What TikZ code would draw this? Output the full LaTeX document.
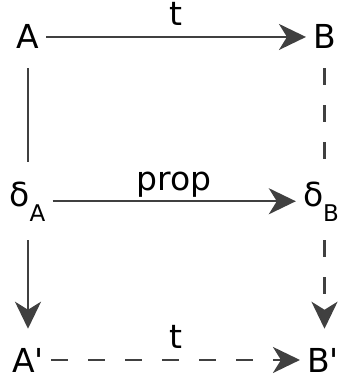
\documentclass[tikz,border=0pt]{standalone}
\usepackage{fontspec}
\setmainfont{DejaVu Sans}
\usetikzlibrary{arrows.meta}

\definecolor{edgegray}{HTML}{404040}
\newcommand{\lowidx}[1]{\raisebox{-15pt}{\fontsize{23}{27}\selectfont #1}}

\tikzset{
  obj/.style={anchor=base, inner xsep=7pt, inner ysep=19pt, font=\fontsize{33}{39}\selectfont},
  lbl/.style={midway, anchor=base, yshift=11pt, inner sep=0pt, font=\fontsize{33}{39}\selectfont},
  arr/.style={draw=edgegray, line width=2.4pt, -{Stealth[length=27pt,width=26pt,inset=8pt]}},
  plain/.style={draw=edgegray, line width=2.4pt},
  dash37/.style={dash pattern=on 17pt off 20pt}
}

\begin{document}
\begin{tikzpicture}[x=1pt, y=-1pt]
  \useasboundingbox (0,0) rectangle (340,379);

  % objects
  \node[obj] (A)  at (28,49)    {A};
  \node[obj] (B)  at (324.5,49) {B};
  \node[obj] (dA) at (27.5,206) {δ\lowidx{A}};
  \node[obj] (dB) at (321,206)  {δ\lowidx{B}};
  \node[obj] (Ap) at (28,372)   {A\textquotesingle};
  \node[obj] (Bp) at (323,372)  {B\textquotesingle};

  % top and middle rows
  \draw[arr] (A) -- (B) node[lbl] {t};
  \draw[arr] (dA) -- (dB) node[lbl] {prop};

  % left column
  \draw[plain] (A.south) -- (A.south |- dA.north);
  \draw[arr] (A.south |- dA.south) -- (A.south |- Ap.north);

  % right column
  \draw[plain, dash37] (B.south) -- (B.south |- dB.north);
  \draw[arr, dash37] (B.south |- dB.south) -- (B.south |- Bp.north);

  % bottom row
  \draw[arr, dash37] (Ap) -- (Bp) node[lbl] {t};
\end{tikzpicture}
\end{document}
